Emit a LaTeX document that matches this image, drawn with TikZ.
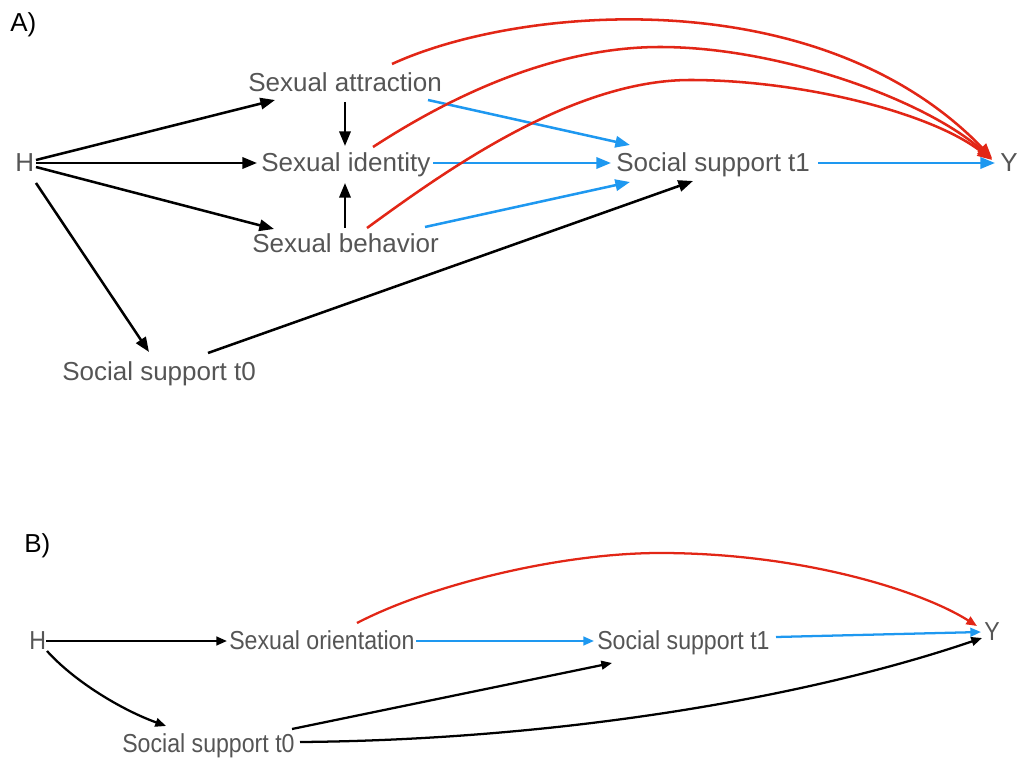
\documentclass[tikz,border=0pt]{standalone}
\usepackage{fontspec}
\setmainfont{Liberation Sans}
\newfontfamily\condfont[FakeStretch=0.89]{Liberation Sans}
\usetikzlibrary{arrows.meta,calc}
\definecolor{txtgray}{RGB}{85,85,85}
\definecolor{pathblue}{RGB}{30,152,240}
\definecolor{pathred}{RGB}{226,38,22}
\begin{document}
\begin{tikzpicture}[x=0.75pt,y=-0.75pt,
  lblA/.style={inner sep=0,anchor=base west,text=txtgray,font=\fontsize{19.5}{22}\selectfont},
  lblB/.style={inner sep=0,anchor=base west,text=txtgray,font=\condfont\fontsize{19.5}{22}\selectfont},
  panel/.style={inner sep=0,anchor=base west,text=black,font=\fontsize{19.5}{22}\selectfont},
  arrA/.style={line width=1.9pt,-{Triangle[length=11pt,width=8.5pt]}},
  arrB/.style={line width=1.7pt,-{Triangle[length=8pt,width=6.5pt]}},
  blk/.style={draw=black},
  blu/.style={draw=pathblue,fill=pathblue},
  rd/.style={draw=pathred,fill=pathred}]
\useasboundingbox (0,0) rectangle (1018,759);
% ---------- Panel A ----------
\node[panel] (lA) at (10,32) {A)};
\node[lblA] (H1) at (15,172) {H};
\node[lblA] (sa) at (248,92) {Sexual attraction};
\node[lblA] (si) at (261,172) {Sexual identity};
\node[lblA] (sb) at (252,253) {Sexual behavior};
\node[lblA] (s0) at (62,381) {Social support t0};
\node[lblA] (s1) at (616,172) {Social support t1};
\node[lblA] (Y1) at (1000,172) {Y};
% black
\draw[arrA,blk] ($(H1.base west)+(21,-12)$) -- ($(sa.base west)+(27,8)$);
\draw[arrA,blk] ($(H1.base west)+(21,-9)$) -- ($(si.base west)+(-4,-9)$);
\draw[arrA,blk] ($(H1.base west)+(21,-5)$) -- ($(sb.base west)+(22,-24)$);
\draw[arrA,blk] ($(H1.base west)+(21,11)$) -- ($(s0.base west)+(87,-29)$);
\draw[arrA,blk] ($(sa.base west)+(97,10)$) -- ($(si.base west)+(84,-26)$);
\draw[arrA,blk] ($(sb.base west)+(93,-25)$) -- ($(si.base west)+(84,11)$);
\draw[arrA,blk] ($(s0.base west)+(146,-28)$) -- ($(s1.base west)+(77,9)$);
% blue
\draw[arrA,blu] ($(sa.base west)+(180,8)$) -- ($(s1.base west)+(14,-27)$);
\draw[arrA,blu] ($(si.base west)+(172,-9)$) -- ($(s1.base west)+(-5,-9)$);
\draw[arrA,blu] ($(sb.base west)+(173,-26)$) -- ($(s1.base west)+(14,10)$);
\draw[arrA,blu] ($(s1.base west)+(202,-9)$) -- ($(Y1.base west)+(-5,-9)$);
% red
\draw[arrA,rd,fill=none] ($(sa.base west)+(144,-28)$) .. controls (520,5) and (820,-20) .. ($(Y1.base west)+(-8,-14)$);
\draw[arrA,rd,fill=none] ($(si.base west)+(112,-25)$) .. controls (430,110) and (540,47) .. (660,47)
   .. controls (780,47) and (925,100) .. ($(Y1.base west)+(-8,-13)$);
\draw[arrA,rd,fill=none] ($(sb.base west)+(115,-25)$) .. controls (440,175) and (570,80) .. (690,80)
   .. controls (800,80) and (930,112) .. ($(Y1.base west)+(-8,-12)$);
% ---------- Panel B ----------
\node[panel] (lB) at (24,552) {B)};
\node[lblB] (H2) at (29,649) {H};
\node[lblB] (so) at (229,649) {Sexual orientation};
\node[lblB] (t1B) at (597,649) {Social support t1};
\node[lblB] (Y2) at (984,640) {Y};
\node[lblB] (t0B) at (122,752) {Social support t0};
\draw[arrB,blk] ($(H2.base west)+(17,-8)$) -- ($(so.base west)+(-2,-8)$);
\draw[arrB,blk] ($(H2.base west)+(18,2)$) .. controls (75,682) and (122,710) .. ($(t0B.base west)+(44,-26)$);
\draw[arrB,blu] ($(so.base west)+(187,-8)$) -- ($(t1B.base west)+(-3,-8)$);
\draw[arrB,blu] ($(t1B.base west)+(179,-12)$) -- ($(Y2.base west)+(-3,-8)$);
\draw[arrB,blk] ($(t0B.base west)+(170,-23)$) -- ($(t1B.base west)+(15,14)$);
\draw[arrB,blk] ($(t0B.base west)+(178,-10)$) .. controls (550,740) and (800,700) .. ($(Y2.base west)+(-2,-2)$);
\draw[arrB,rd,fill=none] ($(so.base west)+(128,-26)$) .. controls (430,585) and (560,553) .. (660,553)
   .. controls (800,553) and (920,590) .. ($(Y2.base west)+(-7,-14)$);
\end{tikzpicture}
\end{document}
